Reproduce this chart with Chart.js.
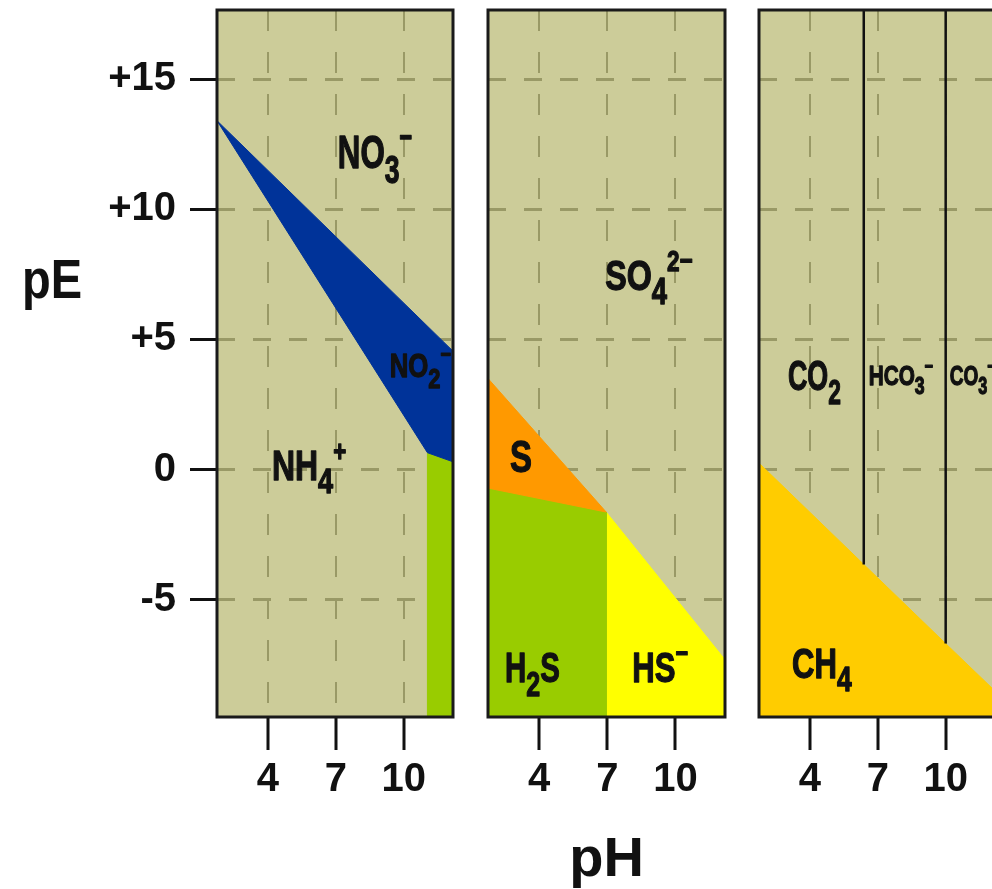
<!DOCTYPE html>
<html>
<head>
<meta charset="utf-8">
<script src="https://cdn.jsdelivr.net/npm/chart.js@4.4.1/dist/chart.umd.min.js"></script>
<style>
  html, body { margin: 0; padding: 0; background: #fff; width: 992px; height: 889px; overflow: hidden; }
  .panel { position: absolute; top: 0; }
</style>
</head>
<body>
<div class="panel" style="left:0"><canvas id="nitrogen" width="470" height="889"></canvas></div>
<div class="panel" style="left:470px"><canvas id="sulfur" width="272" height="889"></canvas></div>
<div class="panel" style="left:742px"><canvas id="carbon" width="270" height="889"></canvas></div>
<script>
// axes (pH across, pE up)
const phRange = [1.75, 12.18];
const peRange = [-9.5, 17.65];
const phTicks = [4, 7, 10];
const peTicks = [-5, 0, 5, 10, 15];
const peTickLabels = ['-5', '0', '+5', '+10', '+15'];

// nitrogen panel, region corners as [pH, pE]
const no2Area = [[1.75, 13.4], [12.18, 4.55], [12.18, 0.3], [11.05, 0.65]];
const nh3Area = [[11.05, 0.65], [12.18, 0.3], [12.18, -9.5], [11.05, -9.5]];

// sulfur panel
const sArea = [[1.75, 3.5], [6.95, -1.63], [1.75, -0.71]];
const h2sArea = [[1.75, -0.71], [6.95, -1.63], [6.95, -9.5], [1.75, -9.5]];
const hsArea = [[6.95, -1.63], [12.18, -7.3], [12.18, -9.5], [6.95, -9.5]];

// carbon panel
const ch4Area = [[1.75, 0.25], [6.38, -3.64], [10.0, -6.68], [12.18, -8.5], [12.18, -9.5], [1.75, -9.5]];
const co2Hco3Line = [[6.38, 17.65], [6.38, -3.64]];
const hco3Co3Line = [[10.0, 17.65], [10.0, -6.68]];

const FONT = "'Liberation Sans', Arial, sans-serif";
const INK = '#111';

function toXY(points) {
  return points.map(p => ({x: p[0], y: p[1]}));
}

// filled polygon
function area(points, color) {
  return {
    data: toXY(points.concat([points[0]])),
    backgroundColor: color,
    borderColor: color,
    borderWidth: 1,
    fill: 'shape',
    pointRadius: 0,
    tension: 0
  };
}

// plain boundary line
function rule(points) {
  return {
    data: toXY(points),
    borderColor: INK,
    borderWidth: 2.5,
    fill: false,
    pointRadius: 0,
    tension: 0
  };
}

// 'NO_{3}^{−}' -> parts
function parseFormula(s) {
  const parts = [];
  const re = /([_^])\{([^}]*)\}|([^_^]+)/g;
  let m;
  while ((m = re.exec(s))) {
    if (m[3]) parts.push({t: m[3]});
    else parts.push({t: m[2], sub: m[1] === '_', sup: m[1] === '^'});
  }
  return parts;
}

// condensed heavy text, the original uses a narrow face
function drawFormula(ctx, x, y, text, size, squeeze) {
  ctx.save();
  ctx.translate(x, y);
  ctx.scale(squeeze, 1);
  ctx.fillStyle = INK;
  ctx.strokeStyle = INK;
  ctx.lineWidth = 1.3;
  ctx.lineJoin = 'round';
  ctx.textAlign = 'left';
  ctx.textBaseline = 'alphabetic';
  let cx = 0;
  for (const part of parseFormula(text)) {
    let fs = size, dy = 0;
    if (part.sub) { fs = size * 0.85; dy = size * 0.32; }
    if (part.sup) { fs = size * 0.7; dy = -size * 0.45; }
    ctx.font = 'bold ' + fs + 'px ' + FONT;
    ctx.fillText(part.t, cx, dy);
    ctx.strokeText(part.t, cx, dy);
    cx += ctx.measureText(part.t).width;
  }
  ctx.restore();
}

const plotBackground = {
  id: 'plotBackground',
  beforeDraw(chart) {
    const {ctx, chartArea: a} = chart;
    ctx.save();
    ctx.fillStyle = '#cccc99';
    ctx.fillRect(a.left, a.top, a.right - a.left, a.bottom - a.top);
    ctx.restore();
  }
};

const frame = {
  id: 'frame',
  afterDatasetsDraw(chart) {
    const {ctx, chartArea: a} = chart;
    ctx.save();
    ctx.strokeStyle = '#1a1a1a';
    ctx.lineWidth = 3;
    ctx.strokeRect(a.left, a.top, a.right - a.left, a.bottom - a.top);
    ctx.restore();
  }
};

function labelPlugin(labels) {
  return {
    id: 'regionLabels',
    afterDatasetsDraw(chart) {
      const xs = chart.scales.x, ys = chart.scales.y;
      for (const l of labels) {
        drawFormula(chart.ctx, xs.getPixelForValue(l.ph), ys.getPixelForValue(l.pe), l.text, l.size, l.sx);
      }
    }
  };
}

function makePanel(id, datasets, labels, opts) {
  const xScale = {
    type: 'linear',
    min: phRange[0],
    max: phRange[1],
    afterBuildTicks: s => { s.ticks = phTicks.map(v => ({value: v})); },
    afterFit: s => { s.height = 172; s.paddingLeft = 0; s.paddingRight = 0; },
    ticks: {
      color: INK,
      padding: 6,
      font: {family: FONT, weight: 'bold', size: 40},
      callback: v => String(v)
    },
    grid: {
      color: '#999966',
      lineWidth: 2,
      tickLength: 33,
      tickColor: INK,
      tickWidth: 3,
      tickBorderDash: []
    },
    border: {display: false, dash: [21, 21]},
    title: {
      display: !!opts.xTitle,
      text: opts.xTitle || '',
      color: INK,
      padding: 0,
      font: {family: FONT, weight: 'bold', size: 56, lineHeight: 1}
    }
  };
  const yScale = {
    type: 'linear',
    min: peRange[0],
    max: peRange[1],
    afterBuildTicks: s => { s.ticks = peTicks.map(v => ({value: v})); },
    afterFit: s => { s.width = opts.yWidth; s.paddingTop = 0; s.paddingBottom = 0; },
    ticks: {
      display: opts.yLabels,
      color: INK,
      padding: 14,
      font: {family: FONT, weight: 'bold', size: 40},
      callback: v => peTickLabels[peTicks.indexOf(v)]
    },
    grid: {
      color: '#999966',
      lineWidth: 3,
      drawTicks: opts.yLabels,
      tickLength: 27,
      tickColor: INK,
      tickWidth: 3,
      tickBorderDash: []
    },
    border: {display: false, dash: [18, 18]}
  };
  const plugins = [plotBackground, frame, labelPlugin(labels)];
  if (opts.extra) plugins.push(opts.extra);
  return new Chart(document.getElementById(id), {
    type: 'line',
    data: {datasets},
    options: {
      responsive: false,
      animation: false,
      events: [],
      layout: {autoPadding: false, padding: opts.padding},
      scales: {x: xScale, y: yScale},
      plugins: {legend: {display: false}, tooltip: {enabled: false}}
    },
    plugins
  });
}

// y-axis caption drawn upright, as in the original figure
const peCaption = {
  id: 'peCaption',
  afterDraw(chart) {
    const ctx = chart.ctx;
    ctx.save();
    ctx.fillStyle = INK;
    ctx.font = 'bold 56px ' + FONT;
    ctx.textAlign = 'left';
    ctx.textBaseline = 'alphabetic';
    ctx.translate(22, 298);
    ctx.scale(0.84, 1);
    ctx.fillText('pE', 0, 0);
    ctx.restore();
  }
};

makePanel('nitrogen', [
  area(no2Area, '#003399'),
  area(nh3Area, '#99cc00')
], [
  {text: 'NO_{3}^{−}', ph: 7.09, pe: 11.57, size: 46, sx: 0.68},
  {text: 'NO_{2}^{−}', ph: 9.38, pe: 3.55, size: 33, sx: 0.78},
  {text: 'NH_{4}^{+}', ph: 4.18, pe: -0.4, size: 42, sx: 0.76}
], {padding: {left: 0, top: 10, right: 17, bottom: 0}, yWidth: 217, yLabels: true, extra: peCaption});

makePanel('sulfur', [
  area(sArea, '#ff9900'),
  area(h2sArea, '#99cc00'),
  area(hsArea, '#ffff00')
], [
  {text: 'SO_{4}^{2−}', ph: 6.91, pe: 6.89, size: 43, sx: 0.75},
  {text: 'S', ph: 2.72, pe: -0.1, size: 45, sx: 0.73},
  {text: 'H_{2}S', ph: 2.5, pe: -8.16, size: 42, sx: 0.7},
  {text: 'HS^{−}', ph: 8.1, pe: -8.16, size: 42, sx: 0.74}
], {padding: {left: 18, top: 10, right: 17, bottom: 0}, yWidth: 0, yLabels: false, xTitle: 'pH'});

makePanel('carbon', [
  rule(co2Hco3Line),
  rule(hco3Co3Line),
  area(ch4Area, '#ffcc00')
], [
  {text: 'CO_{2}', ph: 3.03, pe: 3.05, size: 42, sx: 0.64},
  {text: 'HCO_{3}^{−}', ph: 6.6, pe: 3.24, size: 28, sx: 0.74},
  {text: 'CO_{3}^{−}', ph: 10.18, pe: 3.24, size: 28, sx: 0.68},
  {text: 'CH_{4}', ph: 3.21, pe: -8.0, size: 42, sx: 0.74}
], {padding: {left: 17, top: 10, right: 17, bottom: 0}, yWidth: 0, yLabels: false});
</script>
</body>
</html>
